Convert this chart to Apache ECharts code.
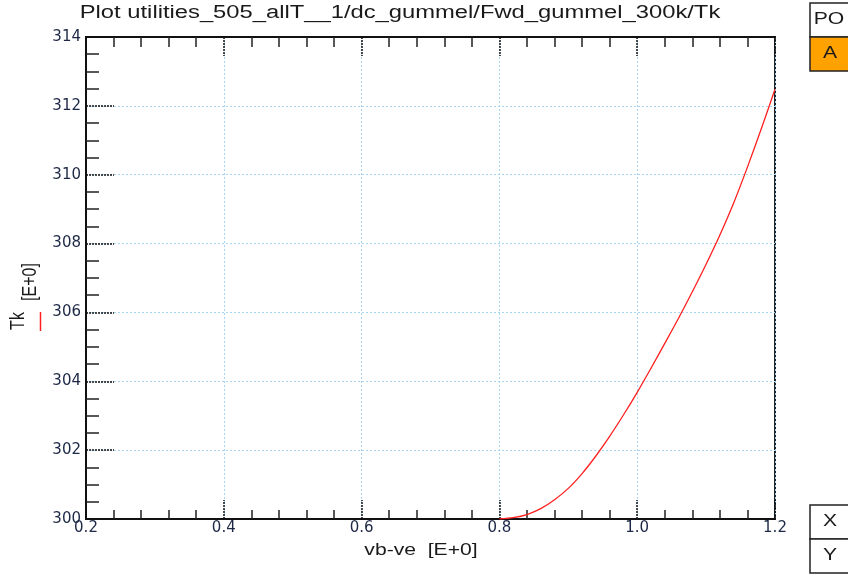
<!DOCTYPE html>
<html>
<head>
<meta charset="utf-8">
<script src="https://cdn.jsdelivr.net/npm/echarts@6/dist/echarts.min.js"></script>
<style>
  html, body { margin: 0; padding: 0; background: #fff; }
  #main { width: 848px; height: 577px; }
</style>
</head>
<body>
<div id="main"></div>
<script>
// vb-ve sweep and Tk values
const vbve = [0.80, 0.82, 0.84, 0.86, 0.88, 0.90, 0.92, 0.94, 0.96, 0.98, 1.00,
              1.02, 1.04, 1.06, 1.08, 1.10, 1.12, 1.14, 1.16, 1.18, 1.20];
const tk = [300.00, 300.04, 300.13, 300.30, 300.56, 300.89, 301.32, 301.83, 302.40, 303.02, 303.68,
            304.38, 305.10, 305.83, 306.60, 307.40, 308.25, 309.18, 310.22, 311.33, 312.48];

const titleText = 'Plot utilities_505_allT__1/dc_gummel/Fwd_gummel_300k/Tk';
const xName = 'vb-ve  [E+0]';
const yNameMain = 'Tk';
const yNameUnit = '[E+0]';
const panelTop = ['PO', 'A'];
const panelBottom = ['X', 'Y'];

const font = 'Liberation Sans, Arial, sans-serif';
const tickFont = 'DejaVu Sans, sans-serif';
const labelColor = '#1c2845';
const stretch = 1.32;   // the reference text is drawn wide

const chart = echarts.init(document.getElementById('main'), null, { renderer: 'canvas' });

const points = vbve.map((v, i) => [v, tk[i]]);

function wideText(x, y, text, size, extra) {
  return Object.assign({
    type: 'text', x: x, y: y, scaleX: stretch, z: 20,
    style: { x: 0, y: 0, text: text, fontFamily: font, fontSize: size, fill: '#1a1a1a',
             align: 'center', verticalAlign: 'middle' }
  }, extra || {});
}

function box(y, label, fill) {
  return [
    { type: 'rect', shape: { x: 810, y: y, width: 45, height: 34 }, z: 15,
      style: { fill: fill, stroke: '#222', lineWidth: 1.5 } },
    wideText(label.length > 1 ? 829 : 830, y + 17, label, 16)
  ];
}

chart.setOption({
  animation: false,
  backgroundColor: '#fff',
  grid: {
    left: 86, right: 73, top: 37, bottom: 58,
    show: true, borderColor: '#222', borderWidth: 2, backgroundColor: '#fff'
  },
  xAxis: [{
    type: 'value',
    min: 0.2, max: 1.2, interval: 0.2,
    position: 'bottom',
    axisLine: { show: true, lineStyle: { color: '#111', width: 2 } },
    axisTick: { show: true, inside: true, length: 19, lineStyle: { color: '#111', type: [2, 1], width: 1.5 } },
    minorTick: { show: true, splitNumber: 5, length: 9, lineStyle: { color: '#222', width: 1.5 } },
    axisLabel: {
      fontFamily: tickFont, fontSize: 15, color: labelColor, margin: 2,
      formatter: v => v.toFixed(1)
    },
    splitLine: { show: true, lineStyle: { color: '#a6d6f2', type: [2, 2], width: 1 } }
  }, {
    type: 'value',
    min: 0.2, max: 1.2, interval: 0.2,
    position: 'top',
    axisLine: { show: true, lineStyle: { color: '#111', width: 2 } },
    axisTick: { show: true, inside: true, length: 19, lineStyle: { color: '#111', type: [2, 1], width: 1.5 } },
    minorTick: { show: true, splitNumber: 5, length: 10, lineStyle: { color: '#222', width: 1.5 } },
    axisLabel: { show: false },
    splitLine: { show: false }
  }],
  yAxis: {
    type: 'value',
    min: 300, max: 314, interval: 2,
    axisLine: { show: true, lineStyle: { color: '#111', width: 2 } },
    axisTick: { show: true, inside: true, length: 28, lineStyle: { color: '#111', type: [2, 1], width: 1.5 } },
    minorTick: { show: true, splitNumber: 4, length: 13, lineStyle: { color: '#222', width: 1.5 } },
    axisLabel: { fontFamily: tickFont, fontSize: 15, color: labelColor, margin: 5 },
    splitLine: { show: true, lineStyle: { color: '#a6d6f2', type: [2, 2], width: 1 } }
  },
  graphic: [
    wideText(400, 13, titleText, 18),
    wideText(421, 551, xName, 16),
    // y-axis title, rotated; the unit sits a bit lower like in the reference
    wideText(18, 321, yNameMain, 16, { rotation: Math.PI / 2, scaleX: 1, scaleY: stretch }),
    wideText(30, 282, yNameUnit, 16, { rotation: Math.PI / 2, scaleX: 1, scaleY: stretch }),
    // red legend stroke under "Tk"
    { type: 'line', shape: { x1: 40.5, y1: 312, x2: 40.5, y2: 331 }, style: { stroke: '#ff2020', lineWidth: 1.5 }, z: 10 }
  ].concat(box(3, panelTop[0], '#fff'), box(37, panelTop[1], '#ffa200'),
           box(505, panelBottom[0], '#fff'), box(539, panelBottom[1], '#fff')),
  series: [{
    type: 'line',
    xAxisIndex: 0,
    data: points,
    smooth: 0.25,
    showSymbol: false,
    clip: true,
    lineStyle: { color: '#ff2020', width: 1.3 },
    z: 5
  }]
});
</script>
</body>
</html>
